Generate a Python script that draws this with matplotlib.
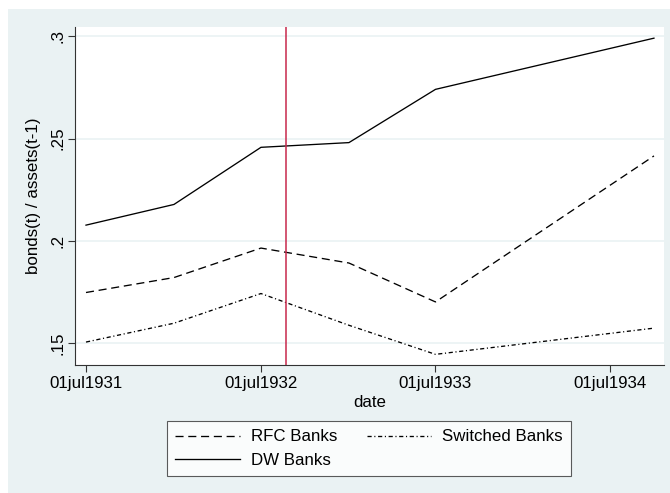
import datetime as dt
import matplotlib
matplotlib.use("Agg")
import matplotlib.pyplot as plt
import matplotlib.dates as mdates
from matplotlib.patches import Rectangle

plt.rcParams['font.family'] = ['Liberation Sans', 'DejaVu Sans']
plt.rcParams['lines.scale_dashes'] = False

# half-year observation dates and bond/asset ratios by bank group
dates = [dt.date(1931, 7, 1), dt.date(1932, 1, 1), dt.date(1932, 7, 1),
         dt.date(1933, 1, 1), dt.date(1933, 7, 1), dt.date(1934, 10, 1)]
rfc_banks = [0.1748, 0.1821, 0.1965, 0.1892, 0.1702, 0.2415]
dw_banks = [0.2077, 0.2178, 0.2457, 0.2480, 0.2740, 0.2990]
switched_banks = [0.1506, 0.1598, 0.1743, 0.1588, 0.1446, 0.1574]

event_date = dt.date(1932, 8, 22)
xticks = [dt.date(1931, 7, 1), dt.date(1932, 7, 1), dt.date(1933, 7, 1), dt.date(1934, 7, 1)]
xticklabels = ['01jul1931', '01jul1932', '01jul1933', '01jul1934']
yticks = [0.15, 0.2, 0.25, 0.3]
yticklabels = ['.15', '.2', '.25', '.3']

bg = '#eaf2f3'
fs = 12.2
fig = plt.figure(figsize=(6.7, 4.93), dpi=100)
fig.patch.set_facecolor('white')
fig.patches.append(Rectangle((8 / 670, 0), 1, 1 - 9 / 493, transform=fig.transFigure,
                             facecolor=bg, edgecolor='none', zorder=-10))

ax = fig.add_axes([75 / 670, 1 - 365 / 493, 589 / 670, 338.3 / 493])
ax.set_facecolor('white')

ax.plot(dates, rfc_banks, color='black', lw=0.95, dashes=(5.8, 3.4), label='RFC Banks')
ax.plot(dates, dw_banks, color='black', lw=0.95, label='DW Banks')
ax.plot(dates, switched_banks, color='black', lw=0.95, dashes=(3.0, 1.9, 0.8, 1.9),
        label='Switched Banks')
ax.axvline(event_date, color='#c8284c', lw=1.1)

ax.set_xlim(dt.date(1931, 6, 8), dt.date(1934, 10, 22))
ax.set_ylim(0.1394, 0.3046)

ax.set_xticks(xticks)
ax.set_xticklabels(xticklabels, fontsize=fs)
ax.set_yticks(yticks)
ax.set_yticklabels(yticklabels, fontsize=fs, rotation=90, va='center')
ax.tick_params(axis='both', length=5, width=0.8, color='#333333', pad=3)
ax.tick_params(axis='y', pad=2)
ax.grid(axis='y', color=bg, lw=1.2)
ax.set_axisbelow(True)

for side in ['top', 'right']:
    ax.spines[side].set_visible(False)
for side in ['left', 'bottom']:
    ax.spines[side].set_color('#333333')
    ax.spines[side].set_linewidth(0.8)

ax.set_xlabel('date', fontsize=fs, labelpad=3)
ax.set_ylabel('bonds(t) / assets(t-1)', fontsize=fs, labelpad=7)

leg = fig.legend(ncol=2, loc='upper left', bbox_to_anchor=(167 / 670, 1 - 421 / 493),
                 borderaxespad=0, fontsize=fs, frameon=True, fancybox=False,
                 handlelength=3.8, handletextpad=0.65, borderpad=0.5,
                 labelspacing=0.5, columnspacing=1.75)
leg.get_frame().set_edgecolor('#333333')
leg.get_frame().set_linewidth(0.8)

fig.savefig('out.png', dpi=100, facecolor='white')
